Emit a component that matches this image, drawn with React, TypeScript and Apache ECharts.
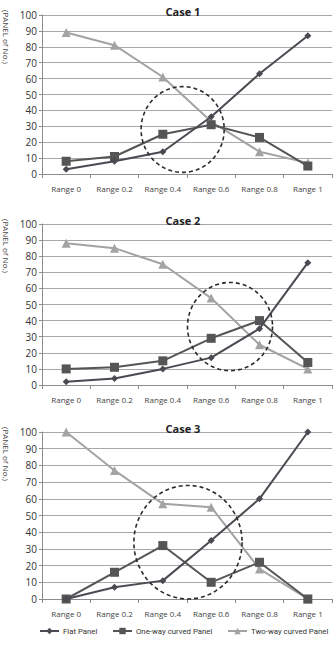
import React, { useEffect, useRef } from "react";
import * as echarts from "echarts";

const CATEGORIES = ["Range 0", "Range 0.2", "Range 0.4", "Range 0.6", "Range 0.8", "Range 1"];
const CASE_TITLES = ["Case 1", "Case 2", "Case 3"];
const SERIES_NAMES = ["Flat Panel", "One-way curved Panel", "Two-way curved Panel"];
const Y_AXIS_NAME = "(PANEL of No.)";

// one row per case
const FLAT_PANEL = [
  [3, 8, 14, 36, 63, 87],
  [2, 4, 10, 17, 35, 76],
  [0, 7, 11, 35, 60, 100],
];
const ONE_WAY_PANEL = [
  [8, 11, 25, 31, 23, 5],
  [10, 11, 15, 29, 40, 14],
  [0, 16, 32, 10, 22, 0],
];
const TWO_WAY_PANEL = [
  [89, 81, 61, 33, 14, 7],
  [88, 85, 75, 54, 25, 10],
  [100, 77, 57, 55, 18, 0],
];

// dashed highlight ellipse per case: [centre category index, centre value, x radius (categories), y radius (value)]
const HIGHLIGHTS = [
  [2.41, 28, 0.86, 27],
  [3.39, 36.3, 0.88, 27.4],
  [2.52, 34, 1.12, 34],
];

const FONT = "'Open Sans', 'Noto Sans', sans-serif";
const LEGEND_FONT = "Roboto, 'Noto Sans', sans-serif";
const COLORS = ["#4a4a52", "#555555", "#a3a3a3"];
const SYMBOLS = ["diamond", "rect", "triangle"];
const SYMBOL_SIZES = [7, 9, 9];

const GRIDS = [
  { left: 42, right: 2, top: 15, height: 159 },
  { left: 42, right: 2, top: 224, height: 161 },
  { left: 42, right: 2, top: 432, height: 167 },
];
const TITLE_TOPS = [1, 210, 418];
const LEGEND_LEFTS = [39, 112, 227];

export default function App() {
  const ref = useRef<HTMLDivElement | null>(null);

  useEffect(() => {
    if (!ref.current) return;
    const chart = echarts.init(ref.current, null, { renderer: "svg" });

    const xAxis = GRIDS.map((_, i) => ({
      type: "category",
      gridIndex: i,
      data: CATEGORIES,
      boundaryGap: true,
      axisLine: { lineStyle: { color: "#8c8c8c", width: 1 } },
      axisTick: { show: true, length: 4, interval: 0, lineStyle: { color: "#8c8c8c" } },
      axisLabel: { fontSize: 8, color: "#444", margin: 10, interval: 0, fontFamily: FONT },
      splitLine: { show: false },
    }));

    const yAxis = GRIDS.map((_, i) => ({
      type: "value",
      gridIndex: i,
      min: 0,
      max: 100,
      interval: 10,
      axisLine: { show: true, lineStyle: { color: "#8c8c8c", width: 1 } },
      axisTick: { show: true, length: 3, lineStyle: { color: "#8c8c8c" } },
      axisLabel: { fontSize: 10, color: "#333", margin: 5, fontFamily: FONT },
      splitLine: { show: true, lineStyle: { color: "#a8a8a8", width: 1 } },
    }));

    const title = CASE_TITLES.map((t, i) => ({
      text: t,
      left: 178,
      textAlign: "center",
      top: TITLE_TOPS[i],
      textStyle: { fontSize: 11, fontWeight: "bold", color: "#222", fontFamily: FONT },
    }));

    const series: any[] = [];
    const groups = [FLAT_PANEL, ONE_WAY_PANEL, TWO_WAY_PANEL];
    for (let c = 0; c < 3; c++) {
      groups.forEach((g, s) => {
        series.push({
          type: "line",
          name: SERIES_NAMES[s],
          xAxisIndex: c,
          yAxisIndex: c,
          data: g[c],
          symbol: SYMBOLS[s],
          symbolSize: SYMBOL_SIZES[s],
          lineStyle: { color: COLORS[s], width: 2 },
          itemStyle: { color: COLORS[s] },
          z: 3 + (2 - s),
        });
      });
      series.push({
        type: "custom",
        name: "highlight" + c,
        xAxisIndex: c,
        yAxisIndex: c,
        data: [[0, 0]],
        clip: false,
        silent: true,
        z: 10,
        renderItem: (params: any, api: any) => {
          const [ci, cv, rxc, ryv] = HIGHLIGHTS[c];
          const p0 = api.coord([0, cv]);
          const p1 = api.coord([1, cv]);
          const step = p1[0] - p0[0];
          const cx = p0[0] + ci * step;
          const cy = p0[1];
          const ry = api.coord([0, 0])[1] - api.coord([0, ryv])[1];
          const rx = rxc * step;
          const pts: number[][] = [];
          for (let k = 0; k < 72; k++) {
            const a = (k / 72) * Math.PI * 2;
            pts.push([cx + rx * Math.cos(a), cy + ry * Math.sin(a)]);
          }
          return {
            type: "polygon",
            shape: { points: pts },
            style: { fill: "none", stroke: "#2b2b2b", lineWidth: 1.6, lineDash: [4, 3] },
          };
        },
      });
    }

    const legend = SERIES_NAMES.map((name, i) => ({
      data: [name],
      left: LEGEND_LEFTS[i],
      top: 627,
      padding: 0,
      itemWidth: 19,
      itemHeight: 8,
      textStyle: { fontSize: 7.8, color: "#333", fontFamily: LEGEND_FONT, padding: [0, 0, 0, -1] },
    }));

    chart.setOption({
      animation: false,
      backgroundColor: "#ffffff",
      title,
      grid: GRIDS,
      xAxis,
      yAxis,
      legend,
      graphic: GRIDS.map((g) => ({
        type: "text",
        x: 6,
        y: g.top + 22,
        rotation: -Math.PI / 2,
        style: {
          text: Y_AXIS_NAME,
          fontSize: 8,
          fill: "#444",
          fontFamily: FONT,
          textAlign: "center",
          textVerticalAlign: "middle",
        },
      })),
      series,
    });

    return () => chart.dispose();
  }, []);

  return (
    <div
      ref={ref}
      style={{ position: "absolute", left: 0, top: 0, width: 334, height: 648, background: "#fff" }}
    />
  );
}
